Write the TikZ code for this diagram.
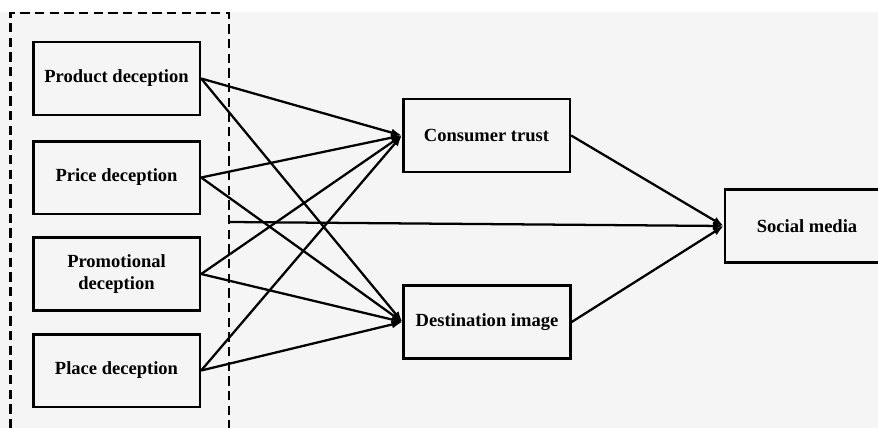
\documentclass[tikz,border=0pt]{standalone}
\usepackage{fontspec}
\setmainfont{Liberation Serif}
\usepackage{tikz}
\usetikzlibrary{arrows.meta}
\definecolor{panel}{HTML}{F5F5F5}

\begin{document}
\begin{tikzpicture}[x=0.75pt, y=-0.75pt,
  font=\fontsize{13.9}{16.5}\selectfont\bfseries,
  box/.style={draw, line width=2pt, fill=panel, minimum width=125pt,
              minimum height=54.5pt, inner sep=0pt, align=center},
  grp/.style={draw, dash pattern=on 7pt off 4pt, line width=2pt,
              minimum width=164pt, minimum height=313.5pt, inner sep=0pt},
  arr/.style={-{Latex[length=8pt, width=6pt]}, line width=1.7pt}
]
\useasboundingbox (0,0) rectangle (878,428);
\clip (0,0) rectangle (878,428);
\fill[white] (0,0) rectangle (878,428);
\fill[panel] (0,12) rectangle (878,428);

% deception dimensions, grouped
\node[grp] (grp) at (119.5,222) {};
\node[box] (prod)  at (116.5,78.5)  {Product deception};
\node[box] (price) at (116.5,177.5) {Price deception};
\node[box] (promo) at (116.5,274)   {Promotional\\deception};
\node[box] (place) at (116.5,370.5) {Place deception};

% mediators and outcome
\node[box] (trust)  at (486.5,135.5) {Consumer trust};
\node[box] (image)  at (487,322)     {Destination image};
\node[box, minimum width=123pt] (social) at (807,226) {Social media};

\foreach \s in {prod,price,promo,place} {
  \draw[arr] (\s.east) -- (trust.west);
  \draw[arr] (\s.east) -- (image.west);
}
\draw[arr] (grp.east) -- (social.west);
\draw[arr] (trust.east) -- (social.west);
\draw[arr] (image.east) -- (social.west);
\end{tikzpicture}
\end{document}
